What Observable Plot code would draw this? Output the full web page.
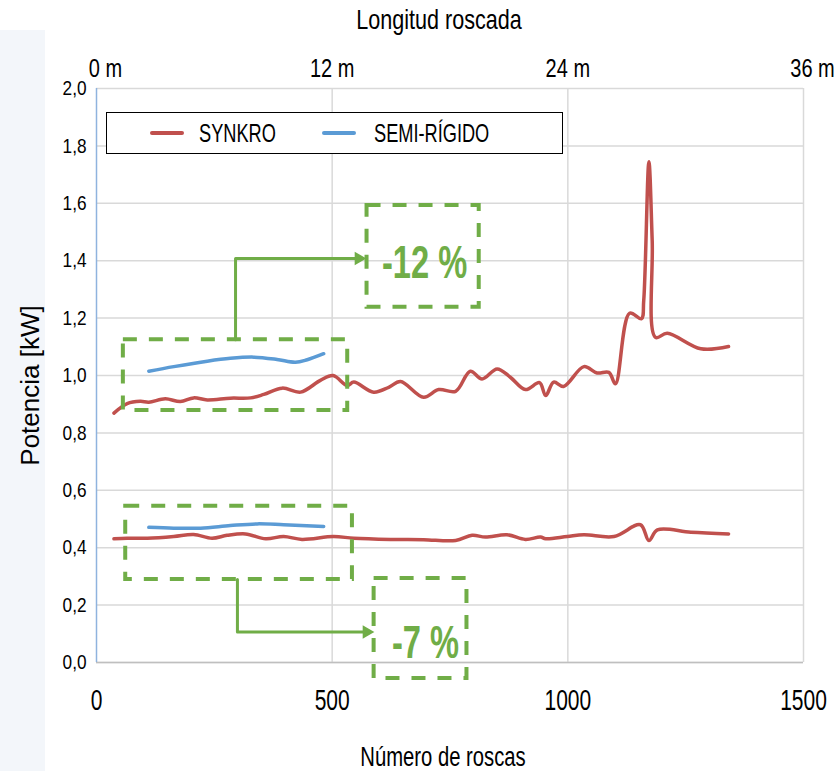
<!DOCTYPE html>
<html>
<head>
<meta charset="utf-8">
<script src="https://cdn.jsdelivr.net/npm/d3@7"></script>
<script src="https://cdn.jsdelivr.net/npm/@observablehq/plot@0.6"></script>
<style>
  body { margin: 0; background: #fff; }
  #wrap { position: relative; width: 836px; height: 771px; overflow: hidden; }
  #tint { position: absolute; left: 0; top: 30px; width: 45px; height: 741px; background: #f3f6fa; }
  #chart { position: absolute; left: 0; top: 0; }
  #legend { position: absolute; left: 106px; top: 112px; width: 455px; height: 40px;
            border: 1.5px solid #000; background: #fff;
            font-family: "Liberation Sans", Arial, sans-serif;
            font-size: 26px; color: #000; }
  .sw { position: absolute; top: 18px; width: 34px; height: 4px; border-radius: 2px; }
  .lt { position: absolute; top: 5px; line-height: 30px; white-space: nowrap;
        transform: scaleX(0.70); transform-origin: left center; }
</style>
</head>
<body>
<div id="wrap">
  <div id="tint"></div>
  <div id="chart"></div>
  <div id="legend">
    <div class="sw" style="left:43px;background:#C0504D"></div>
    <div class="lt" style="left:92px">SYNKRO</div>
    <div class="sw" style="left:215px;background:#5B9BD5"></div>
    <div class="lt" style="left:267px">SEMI-RÍGIDO</div>
  </div>
</div>
<script>
// ---- Data ----
const synkroHighX = [37, 65, 93, 111, 146, 178, 206, 235, 284, 327, 355, 394, 433, 475, 502, 532, 546, 588, 620, 645, 694, 726, 762, 793, 818, 850, 878, 910, 940, 953, 970, 991, 1034, 1062, 1087, 1101, 1131, 1156, 1161, 1172, 1179, 1186, 1211, 1282, 1341];
const synkroHighY = [0.869, 0.902, 0.910, 0.907, 0.919, 0.909, 0.922, 0.915, 0.921, 0.922, 0.934, 0.956, 0.942, 0.983, 1.000, 0.965, 0.977, 0.942, 0.959, 0.979, 0.924, 0.951, 0.945, 1.015, 0.988, 1.023, 0.994, 0.951, 0.975, 0.930, 0.977, 0.962, 1.031, 1.009, 1.011, 0.971, 1.217, 1.198, 1.261, 1.745, 1.470, 1.133, 1.147, 1.093, 1.101];

const semiHighX = [111, 164, 235, 284, 334, 383, 422, 447, 482];
const semiHighY = [1.015, 1.031, 1.050, 1.060, 1.064, 1.056, 1.046, 1.055, 1.076];

const synkroLowX = [37, 65, 108, 164, 206, 245, 277, 316, 359, 397, 436, 503, 546, 624, 694, 762, 797, 825, 871, 910, 942, 953, 999, 1034, 1098, 1154, 1172, 1190, 1261, 1341];
const synkroLowY = [0.431, 0.433, 0.433, 0.439, 0.446, 0.433, 0.443, 0.448, 0.431, 0.439, 0.429, 0.439, 0.433, 0.429, 0.428, 0.425, 0.443, 0.437, 0.445, 0.429, 0.437, 0.431, 0.439, 0.445, 0.439, 0.480, 0.425, 0.462, 0.454, 0.448];

const semiLowX = [111, 164, 221, 284, 341, 397, 482];
const semiLowY = [0.471, 0.468, 0.468, 0.477, 0.483, 0.480, 0.474];

// axis ticks
const yTicks = [0, 0.2, 0.4, 0.6, 0.8, 1.0, 1.2, 1.4, 1.6, 1.8, 2.0];
const xTicks = [0, 500, 1000, 1500];
const topTickMeters = [0, 12, 24, 36];
const totalMeters = 36;   // 36 m corresponds to 1500 roscas

// annotation boxes (dashed)
const boxX1 = [57, 62, 574, 589];
const boxX2 = [533, 543, 812, 786];
const boxY1 = [0.878, 0.289, 1.238, -0.056];
const boxY2 = [1.125, 0.544, 1.592, 0.293];

// connectors
const connUpperX = [295, 295, 560];
const connUpperY = [1.125, 1.408, 1.408];
const connLowerX = [299, 299, 578];
const connLowerY = [0.289, 0.106, 0.106];
const arrowX = [573, 590];
const arrowY = [1.408, 0.106];

// annotation labels
const labelText = ["-12 %", "-7 %"];
const labelX = [696, 698];
const labelY = [1.392, 0.068];

// ---- Chart ----
const green = "#70AD47";
const sans = "'Liberation Sans', Arial, sans-serif";
const xmax = xTicks[xTicks.length - 1];
const topTickRoscas = topTickMeters.map(m => m * xmax / totalMeters);
const topFmt = d => Math.round(d * totalMeters / xmax) + " m";
const isEnd = d => d === 0 || d === xmax;

// horizontal condensation factor per text (mimics the narrow typeface)
const condense = new Map([
  ["Longitud roscada", 0.80],
  ["Número de roscas", 0.75],
  ["-12 %", 0.71], ["-7 %", 0.71]
]);
xTicks.forEach(d => condense.set(String(d), 0.70));
topTickRoscas.forEach(d => condense.set(topFmt(d), 0.80));

const chart = Plot.plot({
  width: 836,
  height: 771,
  marginTop: 88,
  marginBottom: 109,
  marginLeft: 96,
  marginRight: 33,
  style: { fontFamily: sans, background: "transparent", color: "#000", overflow: "visible" },
  x: { domain: [0, 1500] },
  y: { domain: [0, 2] },
  marks: [
    Plot.gridY(yTicks, { stroke: "#d9d9d9", strokeOpacity: 1, strokeWidth: 1.5 }),
    Plot.gridX(xTicks.slice(1), { stroke: "#d9d9d9", strokeOpacity: 1, strokeWidth: 1.5 }),
    Plot.ruleY([0], { stroke: "#bfbfbf", strokeWidth: 1.5 }),
    Plot.ruleX([0], { stroke: "#8fb3de", strokeWidth: 1.5 }),
    Plot.axisY(yTicks, { tickSize: 0, tickPadding: 10, fontSize: 21, label: null,
      tickFormat: d => d.toFixed(1).replace(".", ",") }),
    Plot.axisX(xTicks, { anchor: "bottom", tickSize: 0, tickPadding: 26, fontSize: 30, label: null,
      tickFormat: d => String(d) }),
    Plot.axisX(topTickRoscas.filter(d => !isEnd(d)), { anchor: "top", tickSize: 0, tickPadding: 12, fontSize: 25,
      label: null, tickFormat: topFmt }),
    Plot.axisX(topTickRoscas.filter(isEnd), { anchor: "top", tickSize: 0, tickPadding: 12, fontSize: 25,
      label: null, tickFormat: topFmt, dx: 9 }),
    Plot.text(["Longitud roscada"], { frameAnchor: "top", dx: -11, dy: -68, fontSize: 27, lineAnchor: "middle" }),
    Plot.text(["Número de roscas"], { frameAnchor: "bottom", dx: -7, dy: 95, fontSize: 27, lineAnchor: "middle" }),
    Plot.text(["Potencia [kW]"], { frameAnchor: "left", textAnchor: "middle", dx: -66, dy: 10, rotate: -90,
      fontSize: 26, lineAnchor: "middle" }),

    // data lines
    Plot.line(synkroHighX, { x: synkroHighX, y: synkroHighY, stroke: "#C0504D", strokeWidth: 3.5, curve: "catmull-rom" }),
    Plot.line(synkroLowX, { x: synkroLowX, y: synkroLowY, stroke: "#C0504D", strokeWidth: 3.5, curve: "catmull-rom" }),
    Plot.line(semiHighX, { x: semiHighX, y: semiHighY, stroke: "#5B9BD5", strokeWidth: 3.5, curve: "catmull-rom" }),
    Plot.line(semiLowX, { x: semiLowX, y: semiLowY, stroke: "#5B9BD5", strokeWidth: 3.5, curve: "catmull-rom" }),

    // annotations
    Plot.rect(boxX1, { x1: boxX1, x2: boxX2, y1: boxY1, y2: boxY2, fill: "none", stroke: green,
      strokeWidth: 4, strokeDasharray: "14,12" }),
    Plot.line(connUpperX, { x: connUpperX, y: connUpperY, stroke: green, strokeWidth: 3 }),
    Plot.line(connLowerX, { x: connLowerX, y: connLowerY, stroke: green, strokeWidth: 3 }),
    Plot.dot(arrowX, { x: arrowX, y: arrowY, symbol: "triangle", rotate: 90, r: 5, fill: green, stroke: null, dx: -8 }),
    Plot.text(labelText, { x: labelX, y: labelY, text: d => d, fill: green, fontSize: 46, fontWeight: "bold",
      lineAnchor: "middle" })
  ]
});
document.getElementById("chart").appendChild(chart);

// horizontally condense texts to mimic a narrow typeface (Arial Narrow look)
d3.select(chart).selectAll("text").each(function () {
  const t = this.textContent;
  if (t === "Potencia [kW]") return;
  const k = condense.has(t) ? condense.get(t) : 0.82;
  const xs = this.getAttribute("x");
  const x = xs && !/em$/.test(xs) ? (parseFloat(xs) || 0) : 0;
  const tr = this.getAttribute("transform") || "";
  this.setAttribute("transform", `${tr} translate(${x},0) scale(${k},1) translate(${-x},0)`);
});
</script>
</body>
</html>
